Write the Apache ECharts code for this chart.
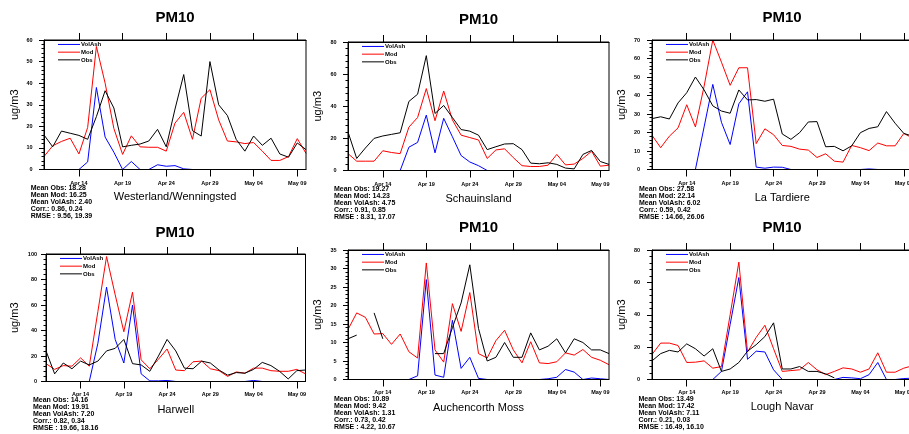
<!DOCTYPE html>
<html><head><meta charset="utf-8">
<script src="https://cdn.jsdelivr.net/npm/echarts@6/dist/echarts.min.js"></script>
<style>html,body{margin:0;padding:0;background:#fff}#c{width:909px;height:434px}</style>
</head><body><div id="c"></div>
<script>
// ---------------- DATA ----------------
const dates = ['Apr 10','Apr 11','Apr 12','Apr 13','Apr 14','Apr 15','Apr 16','Apr 17','Apr 18','Apr 19','Apr 20',
  'Apr 21','Apr 22','Apr 23','Apr 24','Apr 25','Apr 26','Apr 27','Apr 28','Apr 29','Apr 30',
  'May 01','May 02','May 03','May 04','May 05','May 06','May 07','May 08','May 09','May 10'];
const tickDates = ['Apr 14','Apr 19','Apr 24','Apr 29','May 04','May 09'];
const stations = ['Westerland/Wenningsted','Schauinsland','La Tardiere','Harwell','Auchencorth Moss','Lough Navar'];
const seriesNames = ['VolAsh','Mod','Obs'];
const yMax = [60, 80, 70, 100, 35, 80];
const yStep = [10, 20, 10, 20, 5, 20];

const westerlandObs = [16,10.5,17.8,16.8,15.8,14,24.5,36.5,28.5,10.5,11.2,11.8,13.2,18.6,10.5,28,44,18,15.5,50,30,25,14,8.5,15.5,11.2,14.5,7.2,5.7,12.3,9.2];
const westerlandMod = [6,11,13,14.5,7.2,19.5,57,40,19,7,15.6,10.5,10.3,10.3,8.5,21.5,26.5,14,33,37,23,13.2,12.8,12,12.5,8.5,4.2,4.2,6,14.3,7.5];
const westerlandAsh = [0,0,0,0,0,3.5,38,15,8,0,3.7,0,0,2.2,1.5,1.8,0.3,0,0,0,0,0,0,0,0,0,0,0,0,0,0];

const schauinslandObs = [24,7.5,14,20,21.5,22.5,23.5,43,47.5,71.5,35.5,40.5,33,25.5,24.5,22,13,14.8,16.5,16.7,13,4.6,4.2,4.8,3.8,1.5,1,10,12.5,5.6,3.8];
const schauinslandMod = [10.5,5.8,5.8,5.8,12.3,11.2,10.5,27,33,51,31,49.5,31.5,22,20.5,19,7.5,12.8,13.5,8,3,2.5,2.5,3.3,10,3.5,4,7.5,12,2.7,3.3];
const schauinslandAsh = [0,0,0,0,0,0,0,14.5,17.5,34.5,11,32.5,21,9.3,5.3,3,0,0,0,0,0,0,0,0,0,0,0,0,0,0,0];

const tardiereObs = [27.5,28.5,27.3,36,41.5,50,43,34.4,31.6,30.4,43,37.6,37.8,36.9,38,19.2,16.3,19.9,25.7,25.9,12.3,12.5,10.1,12.8,19.9,22.2,23.1,31.3,25,19.5,18];
const tardiereMod = [18.5,11.8,18,22.5,35,23,45,70,58,45.5,55,55,14,22,18.8,13,12.5,11,10.5,6.5,8.5,4.5,4,13,11.8,10.2,14.3,12.8,12.8,19.5,17];
const tardiereAsh = [0,0,0,0,0,0,23,46,25.5,13.5,35.5,42,1.3,0.7,1.3,1.2,0,0,0,0,0,0,0,0,0,0.3,0,0,0,0,0];

const harwellObs = [24,6,14.5,10,16,13,16,24,26,33,14,13,8,20,33,24,10.5,10,16,14.5,9,5,7,6.5,9.5,15,12.5,8,2,8.5,9];
const harwellMod = [14,9.5,12.5,12,18.5,12,55,98,68,39,70,17,10,17.5,25.5,9,8.5,15.5,16,10,8.5,4,7.5,6.5,10.5,10.5,8.5,8,8,9.5,6];
const harwellAsh = [0,0,0,0,0,0,30,74,33,14.5,60,6,0.5,0.5,0.8,0,0,0,0,0,0,0,0,0,0.8,0,0,0,0,0,0];

const auchencorthObs = [11,12,null,18,11,null,null,null,null,null,7,7,14,20.7,31,13.8,5,6,10,6,6,12.6,8,9,11,7.2,11,10,8,8,7];
const auchencorthMod = [13.5,18,16.8,12.3,12.4,9.5,12.3,7.5,5.8,31.5,8,4.7,20.5,13,23.5,7,5.8,10.5,13.3,8,4.5,10.2,4.5,4.3,4.8,7.2,6.6,8.1,6,5.2,4];
const auchencorthAsh = [0,0,0,0,0,0,0,0,1,27,1.2,0.6,16,3,6,0.3,0,0,0,0,0,0,0,0.2,0.6,2.7,2,0,0.4,0.2,0];

const loughNavarObs = [11.5,16,18,17,22,19,14.5,19,5,6.5,10.5,17.5,21.5,26.5,35,6.5,6.5,8,5,5,3.5,1,null,null,null,null,null,null,null,null,null];
const loughNavarMod = [15.5,22.5,22.5,21,10.5,10.7,11.5,7,8,40,72.5,17,26,33.5,19,5,5.5,6,10.5,6,3,5,7.2,6.5,4.5,6.5,16.5,4.5,4.5,7,8.5];
const loughNavarAsh = [0,0,0,0,0,0,0,0,5,34,63,12.5,17.5,17,6,0,0,0,0,0,0,0,1.3,1,0.5,3,10.5,0,0,0.6,0.8];

const meanObs = ['18.28','19.27','27.58','14.16','10.89','13.49'];
const meanMod = ['16.25','14.23','22.14','19.91','9.42','17.42'];
const meanAsh = ['2.40','4.75','6.02','7.20','1.31','7.11'];
const corr = ['0.86, 0.24','0.91, 0.85','0.59, 0.42','0.82, 0.34','0.73, 0.42','0.21, 0.03'];
const rmse = ['9.56, 19.39','8.31, 17.07','14.66, 26.06','19.66, 18.16','4.22, 10.67','16.49, 16.10'];

const panelData = [
  [westerlandAsh, westerlandMod, westerlandObs],
  [schauinslandAsh, schauinslandMod, schauinslandObs],
  [tardiereAsh, tardiereMod, tardiereObs],
  [harwellAsh, harwellMod, harwellObs],
  [auchencorthAsh, auchencorthMod, auchencorthObs],
  [loughNavarAsh, loughNavarMod, loughNavarObs]
];

// ---------------- LAYOUT ----------------
const FONT = '"Liberation Sans", Arial, Helvetica, sans-serif';
const colors = ['#0000ff', '#ff0000', '#000000'];
const grids = [
  {left: 44, top: 40, width: 262, height: 129.5},
  {left: 348, top: 42, width: 261, height: 128.5},
  {left: 652, top: 40, width: 260.5, height: 129.5},
  {left: 46, top: 254, width: 259.5, height: 127.5},
  {left: 348, top: 250, width: 261, height: 129.5},
  {left: 652, top: 250, width: 260.5, height: 129.5}
];
const yLabelMargin = [11.5, 11.5, 12, 9, 11.5, 12];
const xLabelMargin = [10.5, 10.5, 10.5, 10, 9.5, 9.5];
const xNameGap = [22, 23, 23, 22.5, 22.5, 22];
const yNameGap = [23.5, 24.5, 24.5, 25.5, 24.5, 24.5];
const titlePos = [[175, 18.3], [478.5, 20], [782, 18.3], [175, 232.7], [478.5, 228], [782, 228]];
const statsPos = [[30.7, 184.5], [334, 185.3], [639, 185.5], [33, 396.2], [334, 395.2], [638.5, 395.5]];

const tickFn = (idx, val) => tickDates.indexOf(val) >= 0;

const option = {
  animation: false,
  backgroundColor: '#fff',
  grid: [], xAxis: [], yAxis: [], series: [], legend: [], graphic: []
};

grids.forEach((g, i) => {
  option.grid.push(Object.assign({show: true, borderColor: '#000', borderWidth: 1, backgroundColor: 'transparent',
    containLabel: false, outerBoundsMode: 'none', z: 10}, g));
  option.xAxis.push({
    gridIndex: i, type: 'category', data: dates, boundaryGap: false, position: 'bottom', z: 10,
    axisLine: {show: true, lineStyle: {color: '#000', width: 1}},
    axisTick: {show: true, interval: tickFn, length: 7, lineStyle: {color: '#000', width: 1}},
    axisLabel: {interval: tickFn, fontSize: 5.5, fontWeight: 'bold', color: '#000', fontFamily: FONT, margin: xLabelMargin[i]},
    splitLine: {show: false},
    name: stations[i], nameLocation: 'middle', nameGap: xNameGap[i],
    nameTextStyle: {fontSize: 11, color: '#000', fontFamily: FONT}
  });
  option.xAxis.push({
    gridIndex: i, type: 'category', data: dates, boundaryGap: false, position: 'top', z: 10,
    axisLine: {show: true, lineStyle: {color: '#000', width: 1}},
    axisTick: {show: true, interval: tickFn, length: 7, lineStyle: {color: '#000', width: 1}},
    axisLabel: {show: false}, splitLine: {show: false}
  });
  option.yAxis.push({
    gridIndex: i, type: 'value', min: 0, max: yMax[i], interval: yStep[i], z: 10,
    axisLine: {show: true, lineStyle: {color: '#000', width: 1}},
    axisTick: {show: true, length: 5, lineStyle: {color: '#000', width: 1}},
    minorTick: {show: true, splitNumber: 5, length: 2.5, lineStyle: {color: '#000', width: 1}},
    splitLine: {show: false}, minorSplitLine: {show: false},
    axisLabel: {fontSize: 5.5, fontWeight: 'bold', color: '#000', fontFamily: FONT, margin: yLabelMargin[i]},
    name: 'ug/m3', nameLocation: 'middle', nameGap: yNameGap[i], nameRotate: 90,
    nameTextStyle: {fontSize: 11, color: '#000', fontFamily: FONT}
  });
  seriesNames.forEach((nm, k) => {
    option.series.push({
      type: 'line', name: nm, xAxisIndex: 2 * i, yAxisIndex: i,
      data: panelData[i][k], symbol: 'none', showSymbol: false, connectNulls: false,
      lineStyle: {color: colors[k], width: 1}, itemStyle: {color: colors[k]},
      z: 2 + k, emphasis: {disabled: true}, silent: true
    });
  });
  option.legend.push({
    orient: 'vertical', left: g.left + 14, top: g.top + 1.2,
    icon: 'rect', itemWidth: 22, itemHeight: 1, itemGap: 1.2, padding: 0,
    selectedMode: false,
    data: seriesNames.map(n => ({name: n})),
    textStyle: {fontSize: 6, lineHeight: 6.5, fontWeight: 'bold', color: '#000', fontFamily: FONT, padding: [0, 0, 0, -4]}
  });
  option.graphic.push({
    type: 'text', x: titlePos[i][0], y: titlePos[i][1],
    style: {text: 'PM10', fontSize: 15, fontWeight: 'bold', fill: '#000', fontFamily: FONT,
      textAlign: 'center', textVerticalAlign: 'middle'}
  });
  option.graphic.push({
    type: 'text', x: statsPos[i][0], y: statsPos[i][1],
    style: {text: ['Mean Obs: ' + meanObs[i], 'Mean Mod: ' + meanMod[i], 'Mean VolAsh: ' + meanAsh[i],
      'Corr.: ' + corr[i], 'RMSE : ' + rmse[i]].join('\n'),
      fontSize: 7, lineHeight: 7, fontWeight: 'bold', fill: '#000', fontFamily: FONT,
      textAlign: 'left', textVerticalAlign: 'top'}
  });
});

const chart = echarts.init(document.getElementById('c'), null, {renderer: 'canvas'});
chart.setOption(option);
</script>
</body></html>
